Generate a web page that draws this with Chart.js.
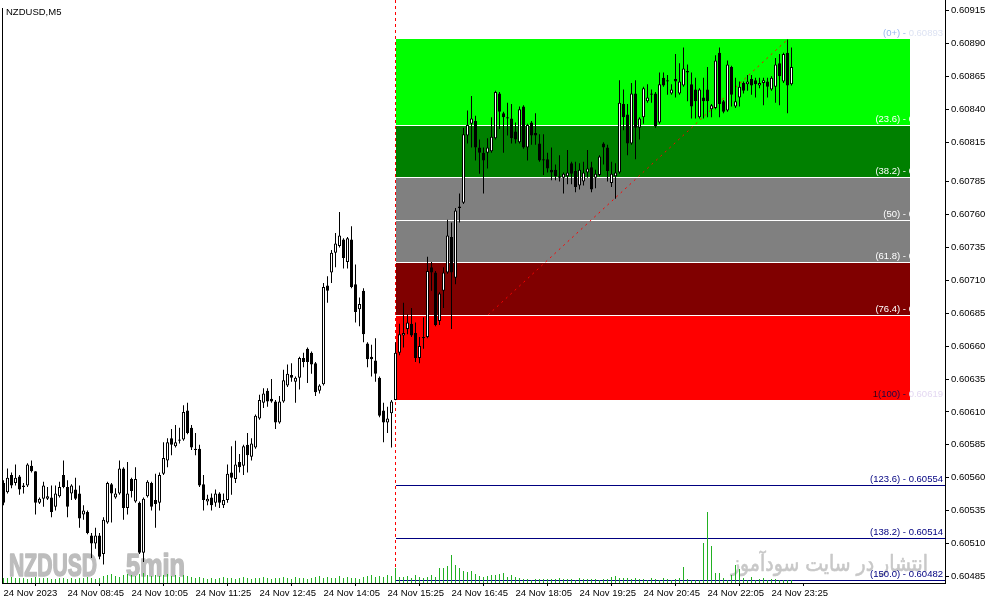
<!DOCTYPE html>
<html>
<head>
<meta charset="utf-8">
<script src="https://cdn.jsdelivr.net/npm/chart.js@4.4.0/dist/chart.umd.min.js"></script>
<style>
  html, body { margin: 0; padding: 0; background: #fff; overflow: hidden; }
  #wrap { width: 991px; height: 605px; }
</style>
</head>
<body>
<div id="wrap"><canvas id="chart" width="991" height="605" style="width:991px;height:605px"></canvas></div>
<script>
// NZDUSD M5 bars, 24 Nov 2023 (index 0 = first bar on screen)
const opens = [
  0.60556,0.60549,0.60562,0.60556,0.60561,0.60554,0.60554,0.60569,0.60565,0.60541,
  0.60544,0.60544,0.60545,0.60538,0.60546,0.60562,0.60553,0.60548,0.60551,0.60548,
  0.60532,0.60534,0.60516,0.60510,0.60516,0.60502,0.60526,0.60555,0.60545,0.60548,
  0.60567,0.60537,0.60559,0.60542,0.60541,0.60503,0.60546,0.60556,0.60543,0.60541,
  0.60563,0.60573,0.60590,0.60584,0.60589,0.60589,0.60611,0.60598,0.60582,0.60582,
  0.60555,0.60542,0.60545,0.60541,0.60548,0.60539,0.60543,0.60564,0.60559,0.60572,
  0.60569,0.60585,0.60576,0.60583,0.60605,0.60617,0.60626,0.60620,0.60618,0.60602,
  0.60618,0.60630,0.60638,0.60633,0.60636,0.60651,0.60658,0.60655,0.60647,0.60626,
  0.60631,0.60706,0.60716,0.60731,0.60736,0.60741,0.60724,0.60741,0.60707,0.60688,
  0.60702,0.60662,0.60652,0.60649,0.60636,0.60611,0.60602,0.60609,0.60619,0.60655,
  0.60668,0.60673,0.60677,0.60670,0.60651,0.60666,0.60667,0.60720,0.60716,0.60679,
  0.60702,0.60716,0.60743,0.60712,0.60765,0.60769,0.60820,0.60829,0.60831,0.60811,
  0.60807,0.60807,0.60808,0.60818,0.60852,0.60837,0.60834,0.60833,0.60823,0.60815,
  0.60842,0.60811,0.60830,0.60822,0.60814,0.60802,0.60802,0.60794,0.60794,0.60789,
  0.60788,0.60789,0.60799,0.60793,0.60782,0.60785,0.60792,0.60796,0.60788,0.60790,
  0.60814,0.60811,0.60784,0.60789,0.60792,0.60844,0.60836,0.60814,0.60852,0.60826,
  0.60834,0.60846,0.60852,0.60852,0.60830,0.60864,0.60862,0.60852,0.60863,0.60852,
  0.60858,0.60869,0.60859,0.60855,0.60834,0.60849,0.60855,0.60840,0.60841,0.60883,
  0.60846,0.60839,0.60872,0.60842,0.60849,0.60860,0.60859,0.60863,0.60862,0.60858,
  0.60860,0.60861,0.60855,0.60857,0.60875,0.60861,0.60883,0.60859
];
const highs = [
  0.60558,0.60567,0.60564,0.60570,0.60562,0.60556,0.60571,0.60573,0.60565,0.60545,
  0.60557,0.60553,0.60554,0.60554,0.60557,0.60573,0.60558,0.60555,0.60560,0.60554,
  0.60539,0.60535,0.60518,0.60522,0.60518,0.60530,0.60557,0.60556,0.60552,0.60573,
  0.60568,0.60572,0.60560,0.60568,0.60542,0.60545,0.60558,0.60557,0.60563,0.60564,
  0.60587,0.60590,0.60597,0.60600,0.60598,0.60615,0.60617,0.60600,0.60594,0.60585,
  0.60562,0.60547,0.60548,0.60551,0.60549,0.60548,0.60570,0.60584,0.60588,0.60578,
  0.60585,0.60594,0.60590,0.60608,0.60623,0.60628,0.60628,0.60635,0.60619,0.60622,
  0.60642,0.60646,0.60647,0.60637,0.60652,0.60655,0.60659,0.60656,0.60648,0.60631,
  0.60708,0.60713,0.60733,0.60746,0.60762,0.60742,0.60743,0.60751,0.60722,0.60697,
  0.60704,0.60663,0.60661,0.60666,0.60637,0.60617,0.60614,0.60619,0.60663,0.60677,
  0.60693,0.60684,0.60689,0.60678,0.60667,0.60682,0.60728,0.60724,0.60717,0.60701,
  0.60720,0.60756,0.60754,0.60765,0.60776,0.60826,0.60839,0.60850,0.60835,0.60817,
  0.60811,0.60818,0.60834,0.60854,0.60853,0.60838,0.60845,0.60844,0.60830,0.60842,
  0.60843,0.60829,0.60831,0.60837,0.60821,0.60821,0.60807,0.60811,0.60798,0.60805,
  0.60792,0.60809,0.60800,0.60800,0.60799,0.60800,0.60809,0.60800,0.60794,0.60805,
  0.60815,0.60813,0.60800,0.60799,0.60862,0.60855,0.60844,0.60860,0.60862,0.60834,
  0.60857,0.60859,0.60855,0.60853,0.60868,0.60868,0.60866,0.60859,0.60882,0.60875,
  0.60887,0.60874,0.60868,0.60864,0.60856,0.60864,0.60872,0.60844,0.60881,0.60887,
  0.60847,0.60877,0.60873,0.60864,0.60861,0.60861,0.60866,0.60866,0.60864,0.60864,
  0.60864,0.60864,0.60865,0.60879,0.60882,0.60883,0.60893,0.60887
];
const lows = [
  0.60539,0.60548,0.60552,0.60554,0.60547,0.60548,0.60553,0.60564,0.60532,0.60540,
  0.60538,0.60543,0.60530,0.60535,0.60545,0.60552,0.60530,0.60543,0.60543,0.60522,
  0.60528,0.60517,0.60499,0.60506,0.60498,0.60494,0.60525,0.60526,0.60544,0.60547,
  0.60528,0.60532,0.60545,0.60541,0.60502,0.60496,0.60545,0.60535,0.60522,0.60535,
  0.60562,0.60568,0.60577,0.60583,0.60586,0.60588,0.60593,0.60581,0.60577,0.60553,
  0.60535,0.60539,0.60535,0.60538,0.60537,0.60537,0.60541,0.60547,0.60556,0.60564,
  0.60562,0.60564,0.60573,0.60582,0.60604,0.60613,0.60614,0.60617,0.60597,0.60601,
  0.60617,0.60629,0.60633,0.60617,0.60627,0.60644,0.60632,0.60639,0.60622,0.60624,
  0.60630,0.60693,0.60708,0.60720,0.60735,0.60719,0.60719,0.60704,0.60678,0.60675,
  0.60663,0.60644,0.60637,0.60633,0.60606,0.60587,0.60594,0.60583,0.60619,0.60653,
  0.60659,0.60669,0.60667,0.60648,0.60647,0.60658,0.60666,0.60702,0.60675,0.60676,
  0.60689,0.60715,0.60673,0.60707,0.60754,0.60768,0.60814,0.60811,0.60801,0.60791,
  0.60776,0.60795,0.60807,0.60817,0.60825,0.60807,0.60820,0.60814,0.60814,0.60814,
  0.60810,0.60801,0.60813,0.60813,0.60800,0.60790,0.60792,0.60786,0.60786,0.60785,
  0.60776,0.60783,0.60783,0.60777,0.60779,0.60782,0.60788,0.60777,0.60780,0.60789,
  0.60798,0.60785,0.60781,0.60772,0.60791,0.60824,0.60805,0.60813,0.60802,0.60817,
  0.60829,0.60845,0.60845,0.60826,0.60829,0.60857,0.60851,0.60851,0.60849,0.60851,
  0.60857,0.60846,0.60833,0.60833,0.60833,0.60833,0.60834,0.60834,0.60840,0.60834,
  0.60837,0.60838,0.60842,0.60841,0.60842,0.60852,0.60854,0.60851,0.60849,0.60856,
  0.60843,0.60849,0.60854,0.60845,0.60843,0.60860,0.60837,0.60858
];
const closes = [
  0.60541,0.60560,0.60554,0.60560,0.60551,0.60553,0.60570,0.60565,0.60541,0.60544,
  0.60554,0.60546,0.60534,0.60548,0.60553,0.60553,0.60538,0.60554,0.60544,0.60529,
  0.60535,0.60518,0.60510,0.60516,0.60500,0.60528,0.60556,0.60548,0.60548,0.60567,
  0.60537,0.60548,0.60550,0.60559,0.60503,0.60544,0.60557,0.60538,0.60540,0.60562,
  0.60575,0.60587,0.60585,0.60587,0.60588,0.60610,0.60594,0.60583,0.60581,0.60554,
  0.60543,0.60544,0.60539,0.60548,0.60541,0.60543,0.60563,0.60560,0.60570,0.60568,
  0.60584,0.60577,0.60586,0.60607,0.60619,0.60624,0.60618,0.60618,0.60602,0.60618,
  0.60634,0.60639,0.60636,0.60636,0.60651,0.60648,0.60648,0.60646,0.60625,0.60630,
  0.60705,0.60702,0.60731,0.60738,0.60744,0.60727,0.60742,0.60705,0.60686,0.60692,
  0.60669,0.60650,0.60650,0.60639,0.60607,0.60602,0.60605,0.60618,0.60655,0.60669,
  0.60670,0.60678,0.60668,0.60651,0.60660,0.60667,0.60717,0.60716,0.60676,0.60700,
  0.60716,0.60744,0.60716,0.60763,0.60766,0.60821,0.60828,0.60833,0.60811,0.60807,
  0.60801,0.60811,0.60819,0.60853,0.60838,0.60834,0.60833,0.60818,0.60817,0.60840,
  0.60811,0.60828,0.60820,0.60820,0.60801,0.60801,0.60795,0.60792,0.60789,0.60788,
  0.60791,0.60792,0.60791,0.60781,0.60794,0.60792,0.60795,0.60779,0.60791,0.60804,
  0.60811,0.60793,0.60791,0.60792,0.60845,0.60834,0.60814,0.60852,0.60826,0.60833,
  0.60856,0.60849,0.60851,0.60827,0.60859,0.60858,0.60861,0.60855,0.60861,0.60861,
  0.60871,0.60868,0.60842,0.60846,0.60855,0.60846,0.60846,0.60843,0.60877,0.60844,
  0.60838,0.60874,0.60851,0.60846,0.60857,0.60854,0.60861,0.60858,0.60859,0.60860,
  0.60862,0.60857,0.60864,0.60874,0.60865,0.60882,0.60858,0.60872
];
// tick volume
const volumes = [
  15,15,18,15,15,15,12,15,18,15,15,15,12,12,15,
  15,12,15,12,15,15,18,15,12,15,
  21,24,27,21,18,24,27,24,21,27,30,24,21,24,21,24,27,21,24,18,24,21,18,
  15,18,15,12,15,12,15,18,15,15,12,15,18,15,12,15,15,18,15,12,
  15,15,18,15,12,18,15,15,12,15,18,21,15,18,15,15,21,15,18,15,
  15,12,18,21,24,18,21,18,24,21,
  45,
  18,18,21,15,24,18,15,18,24,18,
  45,45,51,84,54,45,36,33,36,27,21,18,21,
  24,24,27,30,18,24,18,15,
  12,12,9,12,12,12,12,12,12,15,12,
  12,12,9,15,12,12,12,12,9,
  12,12,18,21,15,15,15,12,15,12,12,9,15,12,9,15,12,9,12,15,
  48,12,9,9,9,
  120,213,111,30,30,15,9,24,54,42,15,9,18,9,12,15,9,12,12,9,9,9,9
];

const xTickBars = [0, 16, 32, 48, 64, 80, 96, 112, 128, 144, 160, 176, 192];
const xTickLabels = ['24 Nov 2023', '24 Nov 08:45', '24 Nov 10:05', '24 Nov 11:25', '24 Nov 12:45',
  '24 Nov 14:05', '24 Nov 15:25', '24 Nov 16:45', '24 Nov 18:05', '24 Nov 19:25',
  '24 Nov 20:45', '24 Nov 22:05', '24 Nov 23:25'];
const yTicks = [0.60915, 0.60890, 0.60865, 0.60840, 0.60815, 0.60785, 0.60760, 0.60735, 0.60710,
  0.60685, 0.60660, 0.60635, 0.60610, 0.60585, 0.60560, 0.60535, 0.60510, 0.60485];

// fibonacci retracement
const fibHigh = 0.60893;
const fibLow = 0.60619;
const fibLowBar = 98;
const fibHighBar = 196;
const fibEndBar = 226.7;
const fibLevels = [0, 23.6, 38.2, 50, 61.8, 76.4, 100, 123.6, 138.2, 150];
const fibLevelNames = ['0+', '23.6', '38.2', '50', '61.8', '76.4', '100', '123.6', '138.2', '150.0'];
const fibZoneColors = ['#00ff00', '#008000', '#808080', '#808080', '#800000', '#ff0000'];

const FONT = '"Liberation Sans", Arial, sans-serif';
const fibPrice = lvl => fibHigh - (fibHigh - fibLow) * lvl / 100;

function drawParts(ctx, parts, right, y) {
  let w = 0;
  parts.forEach(p => { w += ctx.measureText(p[0]).width; });
  let x = right - w;
  ctx.textAlign = 'left';
  parts.forEach(p => {
    ctx.fillStyle = p[1];
    ctx.fillText(p[0], x, y);
    x += ctx.measureText(p[0]).width;
  });
}

// squeeze a watermark string into the given width, with a thin outline to thicken it
function fitText(ctx, text, x, y, width, font, color, stroke, rtl) {
  ctx.save();
  ctx.font = font;
  if (rtl) ctx.direction = 'rtl';
  const w = ctx.measureText(text).width;
  ctx.translate(x, y);
  ctx.scale(width / w, 1);
  ctx.fillStyle = color;
  ctx.strokeStyle = color;
  ctx.lineWidth = stroke;
  ctx.lineJoin = 'round';
  ctx.textAlign = rtl ? 'right' : 'left';
  ctx.fillText(text, 0, 0);
  if (stroke > 0) ctx.strokeText(text, 0, 0);
  ctx.restore();
}

const fibPlugin = {
  id: 'fib',
  beforeDatasetsDraw(chart) {
    const { ctx, chartArea: a, scales: { x, y } } = chart;
    ctx.save();

    // watermarks
    fitText(ctx, 'NZDUSD', 9, 576, 88, 'bold 32px ' + FONT, '#bdbdbd', 1.6);
    fitText(ctx, '5min', 126, 576, 59, 'bold 32px ' + FONT, '#bdbdbd', 1.6);
    fitText(ctx, 'انتشار در سایت سودآموز', 928, 571, 197, '22px "DejaVu Sans", sans-serif', '#c8c8c8', 0.6, true);

    const x1 = Math.round(x.getPixelForValue(fibLowBar));
    const x2 = Math.round(x.getPixelForValue(fibEndBar));
    const py = lvl => Math.round(y.getPixelForValue(fibPrice(lvl)));

    for (let i = 0; i < fibZoneColors.length; i++) {
      const ya = py(fibLevels[i]);
      const yb = py(fibLevels[i + 1]);
      ctx.fillStyle = fibZoneColors[i];
      ctx.fillRect(x1, ya, x2 - x1, yb - ya);
    }
    ctx.fillStyle = '#ffffff';
    for (let i = 1; i <= 5; i++) ctx.fillRect(x1, py(fibLevels[i]), x2 - x1, 1);
    ctx.fillStyle = '#000080';
    for (let i = 7; i < fibLevels.length; i++) ctx.fillRect(x1, py(fibLevels[i]), a.right - x1, 1);

    // vertical and diagonal dashed lines
    ctx.strokeStyle = '#ff0000';
    ctx.lineWidth = 1;
    ctx.setLineDash([3, 3]);
    const vx = Math.floor(x.getPixelForValue(fibLowBar)) + 0.5;
    ctx.beginPath();
    ctx.moveTo(vx, a.top);
    ctx.lineTo(vx, a.bottom);
    ctx.stroke();
    ctx.setLineDash([2, 4]);
    ctx.beginPath();
    ctx.moveTo(x.getPixelForValue(fibLowBar), y.getPixelForValue(fibLow));
    ctx.lineTo(x.getPixelForValue(fibHighBar), y.getPixelForValue(fibHigh));
    ctx.stroke();
    ctx.restore();
  },
  afterDatasetsDraw(chart) {
    const { ctx, chartArea: a, scales: { y } } = chart;
    ctx.save();
    ctx.font = '9.5px ' + FONT;
    ctx.textBaseline = 'alphabetic';
    fibLevels.forEach((lvl, i) => {
      const ly = Math.round(y.getPixelForValue(fibPrice(lvl))) - 3;
      const name = '(' + fibLevelNames[i] + ') - ';
      const val = fibPrice(lvl).toFixed(5);
      if (lvl === 0) {
        drawParts(ctx, [[name, '#98b6ee'], [val, '#dde3f3']], 943, ly);
      } else if (lvl === 100) {
        drawParts(ctx, [['1', '#3a0010'], [name, '#1c0848'], [val, '#e4d8f2']], 943, ly);
      } else if (lvl < 100) {
        drawParts(ctx, [[name + val, '#ffffff']], 943, ly);
      } else {
        drawParts(ctx, [[name + val, '#000080']], 943, ly);
      }
    });

    // window title and left frame
    ctx.fillStyle = '#000000';
    ctx.font = '9.5px ' + FONT;
    ctx.textAlign = 'left';
    ctx.fillText('NZDUSD,M5', 6, 14.5);
    ctx.fillRect(a.left, 8, 1, a.bottom - 8);
    ctx.restore();
  }
};

const isBull = i => closes[i] >= opens[i];

new Chart(document.getElementById('chart'), {
  type: 'bar',
  data: {
    datasets: [
      {
        label: 'body',
        data: opens.map((o, i) => ({ x: i, y: [o, closes[i]] })),
        backgroundColor: c => (isBull(c.dataIndex) ? '#ffffff' : '#000000'),
        borderColor: '#000000',
        borderWidth: 1,
        borderSkipped: false,
        barThickness: 3,
        inflateAmount: 0,
        grouped: false,
        yAxisID: 'y'
      },
      {
        label: 'wick',
        data: lows.map((l, i) => ({ x: i, y: [l, highs[i]] })),
        backgroundColor: '#000000',
        barThickness: 1,
        inflateAmount: 0,
        grouped: false,
        yAxisID: 'y'
      },
      {
        label: 'volume',
        data: volumes.map((v, i) => ({ x: i, y: v })),
        backgroundColor: '#22b022',
        borderWidth: 0,
        barThickness: 1,
        inflateAmount: 0,
        grouped: false,
        yAxisID: 'yv'
      }
    ]
  },
  options: {
    responsive: false,
    animation: false,
    events: [],
    layout: { padding: { left: 2, top: 0, right: 0, bottom: 0 } },
    plugins: { legend: { display: false }, tooltip: { enabled: false }, title: { display: false } },
    scales: {
      x: {
        type: 'linear',
        min: -0.375,
        max: 235.375,
        offset: false,
        grid: { drawOnChartArea: false, drawTicks: true, tickLength: 3, tickColor: '#000000' },
        border: { display: true, color: '#000000' },
        ticks: {
          autoSkip: false,
          maxRotation: 0,
          minRotation: 0,
          align: 'start',
          padding: 2,
          color: '#000000',
          font: { family: FONT, size: 9.5 },
          callback: (v, i) => xTickLabels[i]
        },
        afterBuildTicks: s => { s.ticks = xTickBars.map(v => ({ value: v })); },
        afterFit: s => { s.height = 22; s.paddingLeft = 0; s.paddingRight = 0; }
      },
      y: {
        type: 'linear',
        position: 'right',
        min: 0.6048,
        max: 0.60923,
        grid: { drawOnChartArea: false, drawTicks: true, tickLength: 4, tickColor: '#000000' },
        border: { display: true, color: '#000000' },
        ticks: {
          padding: 2,
          color: '#000000',
          font: { family: FONT, size: 9.5 },
          callback: v => v.toFixed(5)
        },
        afterBuildTicks: s => { s.ticks = yTicks.map(v => ({ value: v })); },
        afterFit: s => { s.width = 46; s.paddingTop = 0; s.paddingBottom = 0; }
      },
      yv: { type: 'linear', display: false, min: 0, max: 1749 }
    }
  },
  plugins: [fibPlugin]
});
</script>
</body>
</html>
